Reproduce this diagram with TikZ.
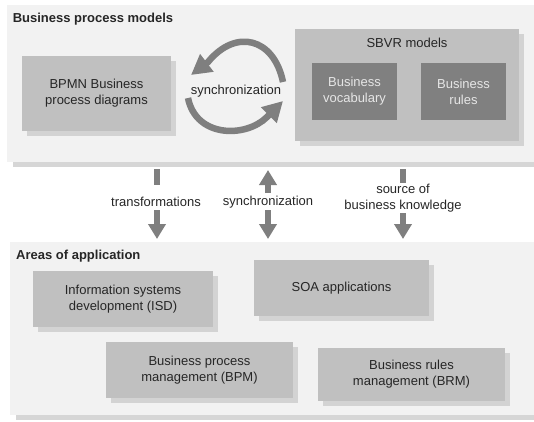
\documentclass[tikz,border=0pt]{standalone}
\usepackage{fontspec}
\setmainfont{Liberation Sans}
\usetikzlibrary{arrows.meta,shadows}

\definecolor{panelbg}{HTML}{F2F2F2}
\definecolor{panelsh}{HTML}{D6D6D6}
\definecolor{boxbg}{HTML}{C0C0C0}
\definecolor{boxsh}{HTML}{D3D3D3}
\definecolor{darkfill}{HTML}{808080}
\definecolor{darktext}{HTML}{E6E6E6}
\definecolor{arrowc}{HTML}{7F7F7F}
\definecolor{txt}{HTML}{262626}

\begin{document}
\begin{tikzpicture}[x=1pt,y=-1pt,
  font=\fontsize{13}{16}\selectfont, text=txt,
  panel/.style={fill=panelbg, draw=none, inner sep=0pt, anchor=north west,
    drop shadow={shadow xshift=6pt, shadow yshift=-5pt, fill=panelsh, opacity=1}},
  box/.style={fill=boxbg, draw=none, inner sep=0pt, align=center,
    drop shadow={shadow xshift=5pt, shadow yshift=-5pt, fill=boxsh, opacity=1}},
  innerbox/.style={fill=darkfill, draw=none, text=darktext, inner sep=0pt, align=center},
  paneltitle/.style={font=\fontsize{13}{16}\selectfont\bfseries, anchor=base west, inner sep=0pt},
  lbl/.style={align=center, inner sep=0pt},
  syncarc/.style={draw=arrowc, line width=6.5pt, -{Triangle[length=20pt,width=21pt]}},
  flowarrow/.style={draw=arrowc, line width=6pt, -{Triangle[length=15pt,width=17pt]}},
  stub/.style={draw=arrowc, line width=6pt}
]
\useasboundingbox (0,0) rectangle (534,421);

% panels
\node[panel, minimum width=530pt, minimum height=157pt] (top) at (7,5) {};
\node[panel, minimum width=530pt, minimum height=173pt] (bottom) at (10,242) {};

\node[paneltitle] (toptitle) at (12.6,22.7) {Business process models};
\node[paneltitle] (bottitle) at (16,259) {Areas of application};

% top boxes
\node[box, minimum width=149pt, minimum height=75pt] (bpmn) at (96.5,93.5)
  {BPMN Business\\process diagrams};
\node[box, minimum width=224pt, minimum height=112pt] (sbvr) at (407,85) {};
\node[lbl] (sbvrlbl) at (407,42.6) {SBVR models};
\node[innerbox, minimum width=85pt, minimum height=57pt] (voc) at (354.5,91.5)
  {Business\\vocabulary};
\node[innerbox, minimum width=85pt, minimum height=57pt] (rules) at (463.5,91.5)
  {Business\\rules};

% synchronization arcs
\node[lbl] (synclbl) at (236,91) {synchronization};
\coordinate (ua) at (283,82);
\coordinate (ub) at (208,62);
\coordinate (uc) at (191,75);
\draw[syncarc] (ua) .. controls (274,38) and (236,28) .. (ub) -- (uc);
\coordinate (la) at (188,98);
\coordinate (lb) at (267,117);
\coordinate (lc) at (283,101);
\draw[syncarc] (la) .. controls (196,138) and (246,138) .. (lb) -- (lc);

% bottom boxes
\node[box, minimum width=180pt, minimum height=56.5pt] (isd) at (123,299.2)
  {Information systems\\development (ISD)};
\node[box, minimum width=175pt, minimum height=55.6pt] (soa) at (341.5,287.8)
  {SOA applications};
\node[box, minimum width=187pt, minimum height=56pt] (bpm) at (199.5,370)
  {Business process\\management (BPM)};
\node[box, minimum width=187pt, minimum height=53pt] (brm) at (411.5,374)
  {Business rules\\management (BRM)};

% connectors between panels
\coordinate (l1) at (157,169);
\coordinate (l2) at (157,185);
\coordinate (l3) at (157,210);
\coordinate (l4) at (157,239);
\draw[stub] (l1) -- (l2);
\node[lbl] (trlbl) at (156,202) {transformations};
\draw[flowarrow] (l3) -- (l4);

\coordinate (m1) at (268,193);
\coordinate (m2) at (268,170);
\coordinate (m3) at (268,210);
\coordinate (m4) at (268,239);
\draw[flowarrow] (m1) -- (m2);
\node[lbl] (synlbl2) at (268,202) {synchronization};
\draw[flowarrow] (m3) -- (m4);

\coordinate (r1) at (403,169);
\coordinate (r2) at (403,183);
\coordinate (r3) at (403,213);
\coordinate (r4) at (403,239);
\draw[stub] (r1) -- (r2);
\node[lbl] (srclbl) at (403,198) {source of\\business knowledge};
\draw[flowarrow] (r3) -- (r4);
\end{tikzpicture}
\end{document}
